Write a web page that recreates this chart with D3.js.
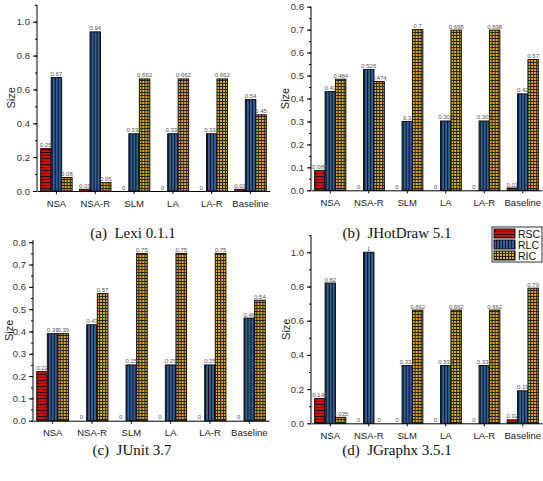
<!DOCTYPE html>
<html>
<head>
<meta charset="utf-8">
<script src="https://cdn.jsdelivr.net/npm/d3@7"></script>
<style>
  body { margin: 0; background: #fff; }
  svg { display: block; }
</style>
</head>
<body>
<div id="chart"></div>
<script>
const categories = ["NSA", "NSA-R", "SLM", "LA", "LA-R", "Baseline"];
const seriesNames = ["RSC", "RLC", "RIC"];

// Lexi 0.1.1
const lexiRSC = [0.25, 0.01, 0, 0, 0, 0.01];
const lexiRLC = [0.67, 0.94, 0.338, 0.338, 0.338, 0.54];
const lexiRIC = [0.08, 0.05, 0.662, 0.662, 0.662, 0.45];

// JHotDraw 5.1
const jhdRSC = [0.086, 0, 0, 0, 0, 0.01];
const jhdRLC = [0.43, 0.526, 0.3, 0.302, 0.302, 0.42];
const jhdRIC = [0.484, 0.474, 0.7, 0.698, 0.698, 0.57];

// JUnit 3.7
const junitRSC = [0.22, 0, 0, 0, 0, 0];
const junitRLC = [0.39, 0.43, 0.25, 0.25, 0.25, 0.46];
const junitRIC = [0.39, 0.57, 0.75, 0.75, 0.75, 0.54];

// JGraphx 3.5.1
const jgxRSC = [0.145, 0, 0, 0, 0, 0.02];
const jgxRLC = [0.82, 1, 0.338, 0.338, 0.338, 0.19];
const jgxRIC = [0.035, 0, 0.662, 0.662, 0.662, 0.79];

const captions = ["(a)  Lexi 0.1.1", "(b)  JHotDraw 5.1", "(c)  JUnit 3.7", "(d)  JGraphx 3.5.1"];

const width = 543, height = 481;
const sans = "Arial, 'Liberation Sans', sans-serif";

const svg = d3.select("#chart").append("svg")
    .attr("width", width)
    .attr("height", height);

// fill patterns
const defs = svg.append("defs");

defs.append("pattern")
    .attr("id", "pat-RSC")
    .attr("patternUnits", "userSpaceOnUse")
    .attr("width", 4).attr("height", 3)
  .call(p => p.append("rect").attr("width", 4).attr("height", 3).attr("fill", "#e00000"))
  .call(p => p.append("rect").attr("y", 2).attr("width", 4).attr("height", 1).attr("fill", "#111"));

defs.append("pattern")
    .attr("id", "pat-RLC")
    .attr("patternUnits", "userSpaceOnUse")
    .attr("width", 3).attr("height", 4)
  .call(p => p.append("rect").attr("width", 3).attr("height", 4).attr("fill", "#2f5f9c"))
  .call(p => p.append("rect").attr("x", 2).attr("width", 1).attr("height", 4).attr("fill", "#111"));

defs.append("pattern")
    .attr("id", "pat-RIC")
    .attr("patternUnits", "userSpaceOnUse")
    .attr("width", 3).attr("height", 3)
  .call(p => p.append("rect").attr("width", 3).attr("height", 3).attr("fill", "#e2ad00"))
  .call(p => p.append("rect").attr("x", 2).attr("width", 1).attr("height", 3).attr("fill", "#222"))
  .call(p => p.append("rect").attr("y", 2).attr("width", 3).attr("height", 1).attr("fill", "#222"));

function panel(cfg) {
  const g = svg.append("g");

  const data = categories.map((c, i) => ({
    cat: c,
    vals: cfg.series.map((s, j) => ({ name: seriesNames[j], v: s[i] }))
  }));

  const x = d3.scaleBand()
      .domain(categories)
      .range([cfg.x0, cfg.x1])
      .paddingInner(0.19)
      .paddingOuter(0.095);

  const xs = d3.scaleBand()
      .domain(seriesNames)
      .range([0, x.bandwidth()]);

  const y = d3.scaleLinear()
      .domain([0, cfg.max])
      .range([cfg.y0, cfg.yTop]);

  // minor ticks
  g.append("g")
      .attr("transform", `translate(${cfg.x0},0)`)
      .call(d3.axisLeft(y).tickValues(d3.range(0, cfg.max + 1e-9, cfg.minor)).tickSize(2).tickFormat(""))
      .call(a => a.select(".domain").remove());

  // major ticks
  g.append("g")
      .attr("transform", `translate(${cfg.x0},0)`)
      .call(d3.axisLeft(y).tickValues(d3.range(0, cfg.tmax + 1e-9, cfg.step)).tickSize(4).tickSizeOuter(0).tickFormat(d3.format(".1f")))
      .call(a => a.select(".domain").attr("d", `M0,${cfg.y0}V${cfg.yTop}`))
      .call(a => a.selectAll("text").attr("font-family", sans).attr("font-size", 9.5).attr("fill", "#333"));

  // bars
  const grp = g.selectAll(".grp")
    .data(data)
    .join("g")
      .attr("transform", d => `translate(${x(d.cat)},0)`);

  grp.selectAll("rect")
    .data(d => d.vals)
    .join("rect")
      .attr("x", d => xs(d.name))
      .attr("y", d => y(d.v))
      .attr("width", xs.bandwidth())
      .attr("height", d => cfg.y0 - y(d.v))
      .attr("fill", d => `url(#pat-${d.name})`)
      .attr("stroke", "#111")
      .attr("stroke-width", d => d.v > 0 ? 1 : 0);

  grp.selectAll("text")
    .data(d => d.vals)
    .join("text")
      .attr("x", d => xs(d.name) + xs.bandwidth() / 2)
      .attr("y", d => y(d.v) - 1.5)
      .attr("text-anchor", "middle")
      .attr("font-family", sans)
      .attr("font-size", 6)
      .attr("fill", "#555")
      .text(d => String(d.v));

  // x axis
  g.append("g")
      .attr("transform", `translate(0,${cfg.y0})`)
      .call(d3.axisBottom(x).tickSize(3).tickSizeOuter(0).tickPadding(6))
      .call(a => a.selectAll("text").attr("font-family", sans).attr("font-size", 9.5).attr("fill", "#222"));

  // y label
  g.append("text")
      .attr("transform", `translate(${cfg.labelX},${(cfg.y0 + cfg.yTop) / 2}) rotate(-90)`)
      .attr("text-anchor", "middle")
      .attr("font-family", sans)
      .attr("font-size", 11)
      .attr("fill", "#222")
      .text("Size");

  // caption
  svg.append("text")
      .attr("x", cfg.capX)
      .attr("y", cfg.capY)
      .attr("text-anchor", "middle")
      .attr("font-family", "'Liberation Serif', 'Times New Roman', serif")
      .attr("font-size", 15)
      .attr("fill", "#111")
      .style("white-space", "pre")
      .text(cfg.caption);
}

panel({ series: [lexiRSC, lexiRLC, lexiRIC], x0: 37, x1: 270, y0: 191, yTop: 4.8, max: 1.1, tmax: 1.0, step: 0.2, minor: 0.1, labelX: 15, capX: 133, capY: 238, caption: captions[0] });
panel({ series: [jhdRSC, jhdRLC, jhdRIC], x0: 311, x1: 542, y0: 190.3, yTop: 6.7, max: 0.8, tmax: 0.8, step: 0.1, minor: 0.05, labelX: 289, capX: 397, capY: 238, caption: captions[1] });
panel({ series: [junitRSC, junitRLC, junitRIC], x0: 33, x1: 269, y0: 420.7, yTop: 240, max: 0.81, tmax: 0.8, step: 0.1, minor: 0.05, labelX: 13, capX: 132, capY: 455, caption: captions[2] });
panel({ series: [jgxRSC, jgxRLC, jgxRIC], x0: 311, x1: 542, y0: 423.3, yTop: 235.2, max: 1.1, tmax: 1.0, step: 0.2, minor: 0.1, labelX: 290, capX: 397, capY: 455, caption: captions[3] });

// legend
const legend = svg.append("g").attr("transform", "translate(492,227)");
legend.append("rect")
    .attr("width", 50).attr("height", 35)
    .attr("fill", "#fff")
    .attr("stroke", "#333");
legend.selectAll(".item")
  .data(seriesNames)
  .join("g")
    .attr("transform", (d, i) => `translate(2,${2 + i * 11})`)
  .call(s => s.append("rect")
      .attr("width", 21).attr("height", 9)
      .attr("fill", d => `url(#pat-${d})`)
      .attr("stroke", "#111"))
  .call(s => s.append("text")
      .attr("x", 24).attr("y", 8.5)
      .attr("font-family", sans)
      .attr("font-size", 10.5)
      .attr("fill", "#111")
      .text(d => d));
</script>
</body>
</html>
